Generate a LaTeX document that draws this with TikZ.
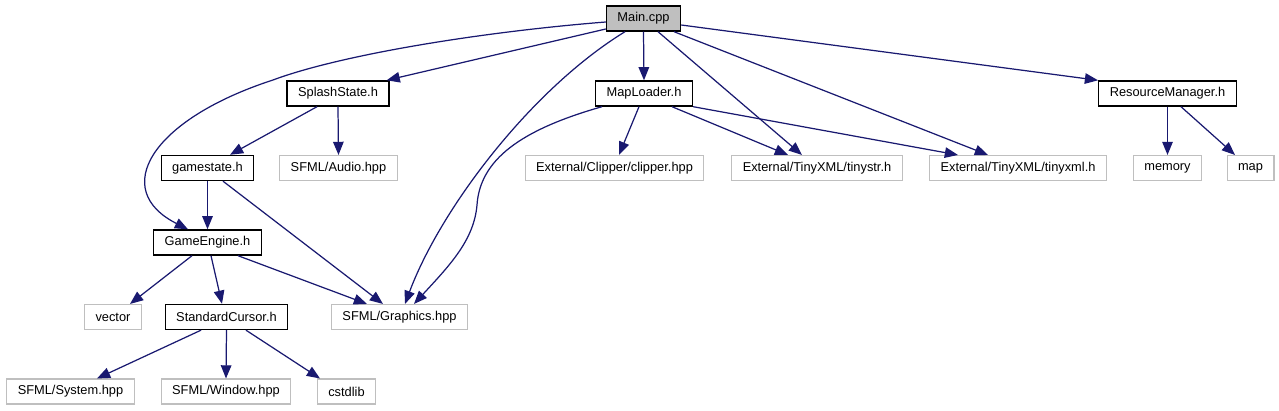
\documentclass[tikz,border=0pt]{standalone}
\usepackage{fontspec}
\setmainfont{Liberation Sans}
\usepackage{xcolor}
\usepackage{tikz}
\usetikzlibrary{arrows.meta,calc}

\definecolor{depblue}{HTML}{191970}
\definecolor{extgray}{HTML}{BFBFBF}

\begin{document}
\begin{tikzpicture}[x=0.02cm,y=-0.02cm,
    file/.style={draw=black,line width=0.8pt,minimum height=0.5cm,inner xsep=0.22cm,
      inner ysep=0pt,font=\fontsize{7.3}{8.8}\selectfont},
    extfile/.style={file,draw=extgray,line width=0.6pt},
    rootfile/.style={file,fill=extgray},
    dep/.style={draw=depblue,line width=0.7pt,-{Triangle[length=7.5pt,width=6pt]}}]
  \useasboundingbox (0,0) rectangle (1279,411);
  % files
  \node[rootfile] (main) at (643.5,18.5) {Main.cpp};
  \node[file] (splash) at (338,93.5) {SplashState.h};
  \node[file] (maploader) at (644,93.5) {MapLoader.h};
  \node[file] (resmgr) at (1167.5,93.5) {ResourceManager.h};
  \node[file] (gamestate) at (207.5,168) {gamestate.h};
  \node[extfile] (audio) at (338.5,168) {SFML/Audio.hpp};
  \node[extfile] (clipper) at (614.5,168) {External/Clipper/clipper.hpp};
  \node[extfile] (tinystr) at (817,168) {External/TinyXML/tinystr.h};
  \node[extfile] (tinyxml) at (1018,168) {External/TinyXML/tinyxml.h};
  \node[extfile] (memory) at (1167.5,168) {memory};
  \node[extfile] (stlmap) at (1250.5,168) {map};
  \node[file] (gameengine) at (207.5,242.5) {GameEngine.h};
  \node[extfile] (vector) at (113,317) {vector};
  \node[file] (cursor) at (226.5,317) {StandardCursor.h};
  \node[extfile] (graphics) at (399.5,317) {SFML/Graphics.hpp};
  \node[extfile] (system) at (70.5,391.5) {SFML/System.hpp};
  \node[extfile] (window) at (226,391.5) {SFML/Window.hpp};
  \node[extfile] (cstdlib) at (346.5,391.5) {cstdlib};

  % includes of Main.cpp
  \draw[dep] ($(main.west)+(0,10.5)$) -- ($(splash.north east)+(-3,0)$);
  \draw[dep] ($(main.west)+(0,3.5)$) .. controls (480,32) and (340,55) .. (273,80)
    .. controls (150,120) and (110,190) .. ($(gameengine.north)+(-19.5,0)$);
  \draw[dep] ($(main.south)+(-18.5,0)$) .. controls (530,90) and (440,210) .. ($(graphics.north)+(5.5,0)$);
  \draw[dep] (main.south) -- (maploader.north);
  \draw[dep] ($(main.south)+(14.5,0)$) -- ($(tinystr.north)+(-15,0)$);
  \draw[dep] ($(main.south)+(30.5,0)$) -- ($(tinyxml.north)+(-30,0)$);
  \draw[dep] ($(main.east)+(0,6.5)$) -- (resmgr.north west);

  \draw[dep] ($(maploader.south)+(-42,0)$) .. controls (520,130) and (480,160) .. (477,205)
    .. controls (474,240) and (450,265) .. ($(graphics.north)+(14.5,0)$);
  \draw[dep] (maploader.south east) -- ($(tinyxml.north)+(-60,0)$);

  % straight includes, top to bottom
  \foreach \a/\da/\b/\db in {maploader/-5/clipper/4.5, maploader/28/tinystr/-29,
      splash/-21/gamestate/22.5, splash/0/audio/0,
      gamestate/0/gameengine/0, gamestate/15.5/graphics/-16.5,
      gameengine/-15.5/vector/17, gameengine/3.5/cursor/-4.5, gameengine/30.5/graphics/-32.5,
      cursor/-25.5/system/26.5, cursor/0/window/0, cursor/19.5/cstdlib/-26.5,
      resmgr/0/memory/0, resmgr/13.5/stlmap/-15.5}
    \draw[dep] ($(\a.south)+(\da,0)$) -- ($(\b.north)+(\db,0)$);
\end{tikzpicture}
\end{document}
